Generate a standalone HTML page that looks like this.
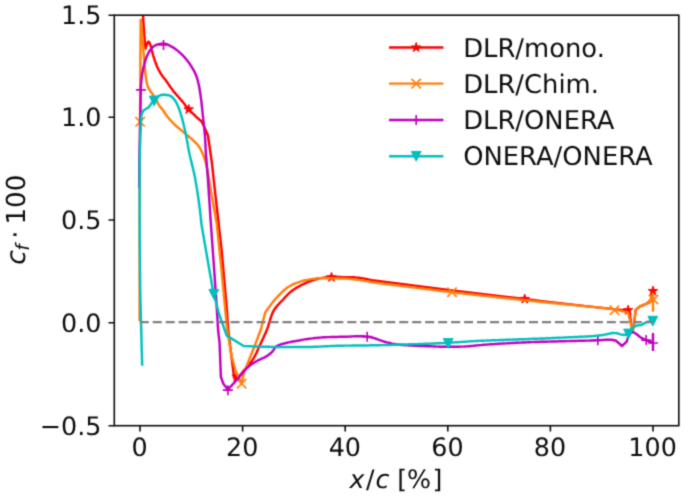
<!DOCTYPE html>
<html lang="en"><head><meta charset="utf-8"><title>cf plot</title>
<style>html,body{margin:0;padding:0;background:#fff}svg{display:block}</style>
</head><body>
<svg width="685" height="497" viewBox="0 0 685 497" font-family="'DejaVu Sans', 'Liberation Sans', sans-serif" font-size="25.4" fill="#0c0c0c" text-rendering="geometricPrecision">
<defs><filter id="soft" x="0" y="0" width="685" height="497" filterUnits="userSpaceOnUse" color-interpolation-filters="sRGB"><feConvolveMatrix order="3" kernelMatrix="0.02778 0.11111 0.02778 0.11111 0.44444 0.11111 0.02778 0.11111 0.02778" edgeMode="duplicate" preserveAlpha="true"/></filter></defs>
<g filter="url(#soft)">
<rect width="685" height="497" fill="#ffffff"/>
<defs><clipPath id="ax"><rect x="114.3" y="15.2" width="564.5" height="410.5"/></clipPath></defs>
<g clip-path="url(#ax)">
<path d="M142.5,8.0 L143.0,15.2 L143.1,16.8 L143.2,18.4 L143.3,20.0 L143.4,21.5 L143.5,23.1 L143.6,24.7 L143.7,26.3 L143.9,27.9 L144.0,29.5 L144.0,30.0 L144.1,31.1 L144.2,32.7 L144.3,34.2 L144.4,35.8 L144.5,37.4 L144.6,39.0 L144.7,40.6 L144.8,42.2 L145.0,43.8 L145.0,44.0 L145.2,45.3 L145.4,46.9 L145.6,48.5 L145.9,47.0 L146.4,45.6 L146.6,45.0 L147.0,44.0 L147.7,42.3 L148.5,41.5 L148.5,41.5 L149.3,42.4 L150.0,44.1 L150.2,44.5 L150.6,45.5 L151.0,47.0 L151.4,48.5 L151.7,50.0 L152.1,51.4 L152.2,51.9 L152.5,52.9 L152.9,54.4 L153.3,55.8 L153.8,57.3 L154.2,58.7 L154.5,59.5 L154.7,60.2 L155.2,61.6 L155.7,63.1 L156.3,64.5 L156.8,65.9 L157.4,67.3 L157.8,68.1 L158.1,68.7 L158.7,70.0 L159.5,71.4 L160.2,72.7 L161.0,74.0 L161.0,74.0 L161.9,75.3 L162.8,76.5 L163.7,77.7 L164.7,78.9 L165.1,79.4 L165.6,80.1 L166.5,81.3 L167.4,82.6 L168.2,83.8 L169.1,85.1 L169.9,86.3 L170.8,87.6 L171.7,88.8 L172.6,90.0 L173.5,91.2 L173.5,91.2 L174.5,92.4 L175.5,93.6 L176.5,94.7 L177.5,95.9 L178.5,97.0 L179.5,98.1 L180.5,99.3 L181.5,100.4 L182.5,101.6 L183.5,102.7 L183.7,103.0 L184.4,103.9 L185.3,105.2 L186.2,106.4 L187.1,107.6 L188.1,108.8 L188.1,108.8 L189.1,109.9 L190.2,111.0 L191.3,112.1 L192.4,113.1 L193.5,114.2 L194.0,114.7 L194.6,115.2 L195.7,116.3 L196.8,117.3 L197.9,118.3 L199.1,119.3 L200.2,120.3 L201.4,121.3 L203.6,125.5 L208.0,135.5 L210.2,151.0 L211.9,162.7 L214.6,187.7 L218.7,224.0 L221.6,250.0 L223.4,270.0 L226.6,306.7 L228.2,330.0 L229.8,343.0 L234.1,377.7 L239.3,376.3 L240.3,375.1 L241.2,373.9 L242.2,372.8 L243.1,371.6 L244.1,370.4 L245.0,369.2 L246.0,368.0 L246.0,368.0 L246.9,366.9 L247.9,365.7 L248.9,364.6 L249.9,363.4 L250.9,362.2 L251.8,361.0 L252.7,359.8 L252.9,359.4 L253.4,358.5 L254.2,357.2 L254.9,355.9 L255.6,354.6 L256.3,353.2 L256.9,351.8 L257.5,350.4 L258.2,349.0 L258.8,347.6 L259.4,346.2 L260.0,344.9 L260.7,343.5 L260.9,343.0 L261.3,342.1 L262.0,340.7 L262.6,339.4 L263.3,338.0 L263.9,336.6 L264.5,335.2 L265.2,333.9 L265.8,332.5 L266.4,331.1 L266.8,330.0 L266.9,329.7 L267.5,328.2 L268.0,326.8 L268.4,325.3 L268.9,323.9 L269.3,322.4 L269.8,320.9 L270.2,319.5 L270.7,318.0 L271.2,316.6 L271.7,315.1 L272.2,313.8 L272.8,312.4 L273.5,311.1 L273.6,310.8 L274.2,309.8 L275.1,308.5 L276.0,307.3 L277.0,306.1 L277.5,305.5 L277.9,305.0 L279.0,303.8 L280.0,302.7 L281.1,301.7 L282.1,300.6 L282.2,300.5 L283.2,299.5 L284.2,298.3 L285.2,297.2 L286.3,296.1 L287.3,295.0 L288.4,293.9 L289.5,292.9 L290.6,291.9 L291.0,291.6 L291.8,291.0 L293.0,290.1 L294.3,289.2 L295.5,288.4 L296.8,287.6 L298.2,286.8 L299.5,286.1 L300.0,285.8 L300.8,285.4 L302.2,284.7 L303.5,284.0 L304.9,283.4 L306.3,282.8 L307.7,282.2 L309.1,281.6 L310.5,281.1 L312.0,280.6 L313.1,280.2 L313.4,280.1 L314.9,279.6 L316.3,279.2 L317.8,278.8 L319.3,278.4 L320.7,278.1 L322.0,277.9 L322.2,277.9 L323.7,277.7 L325.2,277.5 L326.7,277.3 L328.3,277.1 L329.8,277.0 L331.3,277.0 L331.3,277.0 L332.8,277.0 L334.3,277.0 L335.8,277.0 L337.3,277.0 L338.9,277.0 L340.4,277.0 L341.9,277.1 L343.4,277.1 L344.9,277.1 L346.5,277.1 L348.0,277.1 L349.5,277.2 L350.9,277.2 L351.0,277.2 L352.5,277.3 L354.0,277.3 L355.5,277.5 L357.0,277.6 L358.5,277.8 L360.0,278.0 L361.5,278.2 L363.0,278.4 L364.5,278.7 L366.0,279.0 L367.5,279.3 L369.0,279.6 L370.5,279.9 L372.0,280.2 L452.0,290.4 L524.7,299.0 L544.0,301.5 L595.0,307.1 L613.6,309.1 L628.0,310.6 L629.6,313.0 L631.3,325.0 L632.6,331.0 L634.1,323.7 L635.6,310.2 L636.8,309.0 L638.0,308.0 L639.3,307.0 L640.2,306.4 L640.6,306.2 L642.1,305.5 L643.7,304.9 L645.2,304.3 L646.6,303.6 L646.9,303.4 L647.9,302.7 L649.1,301.5 L650.2,300.3 L651.1,298.9 L651.5,298.1 L651.7,297.5 L652.2,296.0 L652.6,294.5 L652.9,292.8 L653.0,291.1" fill="none" stroke="#ff0000" stroke-width="2.45" stroke-linejoin="round" stroke-linecap="butt"/>
<g fill="#ff0000" stroke="#ff0000" stroke-width="1.0" stroke-linejoin="bevel"><polygon class="star" points="188.70,104.40 189.82,107.85 193.46,107.85 190.52,109.99 191.64,113.45 188.70,111.31 185.76,113.45 186.88,109.99 183.94,107.85 187.58,107.85"/><polygon class="star" points="236.70,371.80 237.82,375.25 241.46,375.25 238.52,377.39 239.64,380.85 236.70,378.71 233.76,380.85 234.88,377.39 231.94,375.25 235.58,375.25"/><polygon class="star" points="331.50,272.30 332.62,275.75 336.26,275.75 333.32,277.89 334.44,281.35 331.50,279.21 328.56,281.35 329.68,277.89 326.74,275.75 330.38,275.75"/><polygon class="star" points="524.70,294.00 525.82,297.45 529.46,297.45 526.52,299.59 527.64,303.05 524.70,300.91 521.76,303.05 522.88,299.59 519.94,297.45 523.58,297.45"/><polygon class="star" points="628.10,305.20 629.22,308.65 632.86,308.65 629.92,310.79 631.04,314.25 628.10,312.11 625.16,314.25 626.28,310.79 623.34,308.65 626.98,308.65"/><polygon class="star" points="653.00,286.10 654.12,289.55 657.76,289.55 654.82,291.69 655.94,295.15 653.00,293.01 650.06,295.15 651.18,291.69 648.24,289.55 651.88,289.55"/></g>

<path d="M139.6,321.0 L139.6,250.0 L139.8,151.0 L140.1,122.0 L140.4,60.0 L140.7,19.7 L142.0,30.0 L142.8,42.3 L144.2,60.0 L145.4,74.5 L147.0,84.0 L147.4,85.5 L148.0,86.9 L148.6,88.3 L149.3,89.6 L149.5,90.0 L150.1,90.9 L151.0,92.1 L152.0,93.2 L152.2,93.5 L152.9,94.5 L153.7,95.7 L154.6,97.0 L155.4,98.3 L155.8,99.0 L156.1,99.6 L156.8,100.9 L157.5,102.3 L158.2,103.7 L158.6,104.4 L158.9,104.9 L159.8,106.2 L160.7,107.4 L161.7,108.6 L162.6,109.8 L163.2,110.6 L163.5,111.0 L164.4,112.3 L165.2,113.5 L166.1,114.8 L166.7,115.6 L167.0,116.0 L167.9,117.2 L168.9,118.3 L169.8,119.5 L170.8,120.7 L171.9,121.8 L172.9,122.9 L173.5,123.5 L174.0,123.9 L175.0,125.0 L176.2,126.0 L177.3,127.0 L178.5,128.0 L179.6,128.9 L180.8,129.9 L182.0,130.9 L183.2,131.8 L183.7,132.3 L184.3,132.8 L185.5,133.8 L186.6,134.8 L187.8,135.7 L189.0,136.7 L190.2,137.7 L191.3,138.6 L192.4,139.6 L193.5,140.7 L194.0,141.1 L194.6,141.7 L195.7,142.8 L196.8,143.9 L197.8,145.0 L198.5,146.0 L198.7,146.2 L199.5,147.5 L200.3,148.8 L201.0,150.2 L201.4,151.0 L201.6,151.5 L202.3,152.9 L202.9,154.3 L203.5,155.7 L204.0,157.1 L204.5,158.5 L205.0,160.0 L205.5,161.4 L205.8,162.7 L205.8,162.9 L206.2,164.3 L206.6,165.8 L206.9,167.3 L207.2,168.7 L207.5,170.2 L207.8,171.7 L208.1,173.2 L208.3,174.7 L208.6,176.2 L208.8,177.7 L209.1,179.2 L209.3,180.7 L209.5,182.2 L209.8,183.7 L210.0,185.2 L210.2,186.7 L210.5,188.2 L210.7,189.7 L210.9,191.2 L211.2,192.7 L211.5,194.2 L211.6,195.0 L211.7,195.7 L212.0,197.2 L212.3,198.7 L212.5,200.1 L212.8,201.6 L213.1,203.1 L213.3,204.6 L213.6,206.1 L213.9,207.6 L214.1,209.1 L214.4,210.6 L214.7,212.1 L214.9,213.6 L215.2,215.1 L215.5,216.5 L215.7,218.0 L216.0,219.5 L216.3,221.0 L216.5,222.5 L216.8,224.0 L221.5,270.0 L225.0,306.7 L227.2,330.0 L231.6,356.4 L236.0,372.0 L241.6,383.6 L244.0,372.6 L251.6,353.5 L255.8,343.0 L261.0,329.0 L265.2,312.6 L266.1,311.3 L266.9,310.1 L267.8,308.8 L268.7,307.6 L269.6,306.4 L270.5,305.2 L270.5,305.2 L271.4,304.0 L272.4,302.8 L273.3,301.6 L274.3,300.4 L275.2,299.2 L276.2,298.1 L277.3,297.0 L277.8,296.4 L278.3,295.9 L279.4,294.8 L280.5,293.7 L281.6,292.6 L282.7,291.5 L283.8,290.5 L285.0,289.5 L286.2,288.5 L287.4,287.6 L288.6,286.8 L289.6,286.2 L289.9,286.0 L291.2,285.3 L292.5,284.6 L293.9,284.0 L295.3,283.4 L296.8,282.8 L298.2,282.3 L299.7,281.8 L300.0,281.7 L301.1,281.4 L302.6,280.9 L304.0,280.5 L305.5,280.2 L305.6,280.2 L307.0,279.9 L308.5,279.7 L310.0,279.4 L311.5,279.1 L313.0,278.9 L314.5,278.7 L316.0,278.5 L317.5,278.3 L319.1,278.2 L320.6,278.2 L320.7,278.2 L322.1,278.2 L323.6,278.2 L325.1,278.2 L326.6,278.2 L328.2,278.2 L329.7,278.2 L331.2,278.3 L332.7,278.3 L334.3,278.3 L335.8,278.3 L337.3,278.3 L338.8,278.4 L340.3,278.4 L340.8,278.4 L341.8,278.4 L343.4,278.5 L344.9,278.5 L346.4,278.6 L347.9,278.7 L349.4,278.9 L350.9,279.0 L352.4,279.1 L353.9,279.3 L355.4,279.5 L357.0,279.7 L358.5,279.9 L360.0,280.1 L361.5,280.4 L363.0,280.6 L364.5,280.8 L366.0,281.1 L367.5,281.4 L369.0,281.6 L370.5,281.9 L372.0,282.2 L452.0,292.2 L544.0,302.3 L610.0,308.6 L628.0,312.4 L631.1,325.2 L632.6,331.3 L634.1,323.7 L635.6,310.2 L636.8,309.0 L638.1,307.9 L639.4,306.9 L640.2,306.4 L640.8,306.1 L642.4,305.4 L644.0,304.8 L645.6,304.2 L646.9,303.4 L646.9,303.4 L648.2,302.3 L649.4,301.1 L650.5,299.7 L651.4,298.3 L651.5,298.1 L652.1,296.9 L652.6,295.3 L653.0,293.6 L653.0,311.7" fill="none" stroke="#ff7f0e" stroke-width="2.45" stroke-linejoin="round" stroke-linecap="butt"/>
<g fill="none" stroke="#ff7f0e" stroke-width="1.67"><path d="M135.40,117.10L144.80,126.50M135.40,126.50L144.80,117.10"/><path d="M236.90,378.90L246.30,388.30M236.90,388.30L246.30,378.90"/><path d="M447.30,287.50L456.70,296.90M447.30,296.90L456.70,287.50"/><path d="M609.80,305.50L619.20,314.90M609.80,314.90L619.20,305.50"/><path d="M648.80,294.80L658.20,304.20M648.80,304.20L658.20,294.80"/></g>

<path d="M139.3,188.0 L139.4,165.0 L140.0,130.0 L140.8,89.8 L140.8,88.3 L140.9,86.8 L141.0,85.2 L141.1,83.7 L141.3,82.2 L141.4,80.7 L141.5,79.2 L141.7,77.7 L141.7,77.7 L141.9,76.2 L142.1,74.7 L142.3,73.2 L142.6,71.7 L142.9,70.2 L143.2,68.7 L143.5,67.2 L143.9,65.8 L144.1,64.8 L144.2,64.3 L144.6,62.8 L145.1,61.4 L145.5,59.9 L146.0,58.5 L146.6,57.0 L147.2,55.6 L147.8,54.3 L148.2,53.5 L148.5,53.0 L149.2,51.6 L150.1,50.3 L151.0,49.0 L152.0,47.9 L153.1,46.8 L153.8,46.3 L154.3,46.0 L155.6,45.2 L157.0,44.6 L158.5,44.2 L158.5,44.2 L160.0,43.9 L161.5,43.7 L163.0,43.6 L163.5,43.6 L164.5,43.7 L165.9,44.0 L167.4,44.5 L168.8,45.2 L170.2,45.9 L171.5,46.7 L172.0,46.9 L172.8,47.4 L174.1,48.1 L175.4,49.0 L176.6,49.9 L177.8,50.9 L179.0,51.9 L180.1,52.9 L180.8,53.5 L181.2,53.9 L182.3,54.9 L183.4,56.0 L184.4,57.1 L185.4,58.3 L186.4,59.5 L187.4,60.6 L188.3,61.9 L189.2,63.1 L189.6,63.7 L190.0,64.3 L190.8,65.6 L191.6,66.9 L192.4,68.2 L193.2,69.5 L194.0,70.9 L194.7,72.2 L195.3,73.6 L195.9,75.0 L196.5,76.4 L196.9,77.8 L197.0,78.0 L197.4,79.2 L197.8,80.7 L198.1,82.1 L198.5,83.6 L198.8,85.1 L199.1,86.6 L199.4,88.1 L199.6,89.6 L199.9,91.1 L200.1,92.6 L200.4,94.1 L200.6,95.6 L200.6,95.6 L200.8,97.1 L201.0,98.6 L201.2,100.1 L201.4,101.6 L201.6,103.1 L201.7,104.6 L201.9,106.1 L202.1,107.7 L202.2,109.2 L202.4,110.7 L202.5,112.2 L202.7,113.7 L202.8,114.7 L202.9,115.2 L203.0,116.7 L203.2,118.2 L203.3,119.7 L203.5,121.2 L203.7,122.7 L203.8,124.2 L204.0,125.7 L204.2,127.3 L204.3,128.8 L204.5,130.3 L204.6,131.8 L204.7,133.3 L204.9,134.8 L205.0,136.3 L205.0,136.7 L205.1,137.8 L205.2,139.3 L205.3,140.8 L205.3,142.4 L205.4,143.9 L205.5,145.4 L205.6,146.9 L205.6,148.4 L205.7,149.9 L205.8,151.0 L205.8,151.4 L205.9,153.0 L206.0,154.5 L206.1,156.0 L206.2,157.5 L206.4,159.0 L206.5,160.5 L206.6,162.0 L206.7,163.5 L206.8,165.0 L206.9,166.6 L207.1,168.1 L207.2,169.6 L207.3,171.1 L207.4,172.6 L207.5,174.1 L207.6,175.6 L207.8,177.1 L207.9,178.6 L208.0,180.2 L208.0,180.4 L208.1,181.7 L208.2,183.2 L208.3,184.7 L208.4,186.2 L208.5,187.7 L208.6,189.2 L208.7,190.7 L208.8,192.2 L208.9,193.8 L209.0,195.3 L209.1,196.8 L209.2,198.3 L209.3,199.8 L209.4,201.3 L209.5,202.8 L209.6,204.3 L209.7,205.9 L209.8,207.4 L209.9,208.9 L210.0,210.4 L210.1,211.9 L210.2,213.4 L210.3,214.9 L210.4,216.4 L210.5,217.9 L210.6,219.5 L210.7,221.0 L210.8,222.5 L210.9,224.0 L214.2,270.0 L216.7,306.7 L218.1,330.0 L219.6,343.0 L220.9,377.0 L223.5,384.0 L227.9,389.5 L228.9,388.4 L230.0,387.3 L231.0,386.2 L232.0,385.1 L233.1,384.0 L234.1,382.9 L235.1,381.8 L236.1,380.6 L236.7,380.0 L237.1,379.5 L238.1,378.4 L239.1,377.2 L240.1,376.0 L241.0,374.8 L242.0,373.7 L243.0,372.5 L244.0,371.3 L245.0,370.2 L246.0,369.1 L247.0,368.0 L248.1,367.0 L248.5,366.7 L249.2,366.1 L250.4,365.2 L251.7,364.3 L252.9,363.4 L254.2,362.6 L255.5,361.8 L255.8,361.6 L256.8,361.0 L258.1,360.3 L259.5,359.7 L260.9,359.1 L262.3,358.4 L263.7,357.8 L265.0,357.1 L266.3,356.4 L267.5,355.7 L267.6,355.6 L268.8,354.8 L270.0,353.8 L271.2,352.8 L272.0,352.0 L272.2,351.8 L273.2,350.5 L274.1,349.2 L274.9,347.9 L275.9,346.8 L276.5,346.3 L277.0,346.0 L278.2,345.4 L279.6,344.8 L281.0,344.3 L282.5,343.9 L284.1,343.5 L285.6,343.1 L287.1,342.7 L288.1,342.5 L288.6,342.4 L290.1,342.1 L291.5,341.8 L293.0,341.5 L294.5,341.2 L296.0,341.0 L297.5,340.7 L299.0,340.5 L300.0,340.3 L300.5,340.2 L302.0,339.9 L303.4,339.6 L304.9,339.4 L305.6,339.3 L306.4,339.2 L307.9,339.0 L309.4,338.8 L310.9,338.6 L312.4,338.4 L313.9,338.2 L315.4,338.0 L316.9,337.9 L318.4,337.7 L319.9,337.6 L321.4,337.5 L323.0,337.3 L324.5,337.3 L325.7,337.2 L326.0,337.2 L327.5,337.1 L329.0,337.1 L330.5,337.0 L332.0,337.0 L333.5,337.0 L335.0,336.9 L336.5,336.9 L338.0,336.9 L339.6,336.8 L341.1,336.8 L342.6,336.8 L344.1,336.7 L345.6,336.7 L345.8,336.7 L347.1,336.7 L348.6,336.6 L350.1,336.5 L351.6,336.5 L353.1,336.4 L354.7,336.3 L356.2,336.3 L357.7,336.2 L359.2,336.2 L360.7,336.2 L360.9,336.2 L362.2,336.2 L363.7,336.3 L365.2,336.5 L366.7,336.6 L367.2,336.7 L368.2,336.8 L369.7,337.1 L371.2,337.3 L372.0,337.5 L372.7,337.7 L374.1,338.1 L375.5,338.5 L377.0,339.1 L378.4,339.6 L379.8,340.2 L381.2,340.7 L382.6,341.2 L384.1,341.7 L384.6,341.8 L385.5,342.0 L387.0,342.4 L388.5,342.7 L389.9,343.0 L391.4,343.4 L392.9,343.7 L394.4,343.9 L395.9,344.2 L397.4,344.4 L398.9,344.7 L400.4,344.8 L401.9,345.0 L402.2,345.0 L403.4,345.1 L404.9,345.2 L406.4,345.3 L407.9,345.4 L409.4,345.5 L410.9,345.5 L412.4,345.6 L413.9,345.7 L415.5,345.7 L417.0,345.8 L418.5,345.9 L420.0,345.9 L421.5,346.0 L422.3,346.0 L423.0,346.0 L424.5,346.1 L426.0,346.2 L427.5,346.2 L429.0,346.3 L430.6,346.3 L432.1,346.4 L433.6,346.5 L435.1,346.5 L436.6,346.6 L438.1,346.6 L439.6,346.7 L441.1,346.7 L442.6,346.8 L444.1,346.8 L445.7,346.8 L447.2,346.8 L447.4,346.8 L448.7,346.8 L450.2,346.8 L451.7,346.8 L453.2,346.8 L454.7,346.7 L456.2,346.7 L457.7,346.7 L459.2,346.7 L460.8,346.6 L462.3,346.6 L462.5,346.6 L463.8,346.6 L465.3,346.5 L466.8,346.4 L468.3,346.3 L469.8,346.2 L471.3,346.0 L472.8,345.9 L474.3,345.7 L475.8,345.5 L477.3,345.4 L478.8,345.2 L480.3,345.1 L481.8,345.0 L483.3,344.8 L483.8,344.8 L484.8,344.7 L486.4,344.6 L487.9,344.5 L489.4,344.4 L490.9,344.3 L492.4,344.2 L493.9,344.1 L495.4,344.0 L496.9,343.9 L498.4,343.8 L499.9,343.7 L501.4,343.6 L502.9,343.5 L504.4,343.5 L505.9,343.4 L507.5,343.3 L509.0,343.2 L510.5,343.1 L512.0,343.0 L513.5,342.9 L515.0,342.9 L516.5,342.8 L518.0,342.7 L519.5,342.6 L521.0,342.6 L522.5,342.5 L524.0,342.4 L525.6,342.4 L527.1,342.3 L527.6,342.3 L528.6,342.3 L530.1,342.2 L531.6,342.1 L533.1,342.1 L534.6,342.0 L536.1,342.0 L537.6,341.9 L539.1,341.9 L540.6,341.8 L542.2,341.8 L543.7,341.8 L545.2,341.7 L546.7,341.7 L548.2,341.6 L549.7,341.6 L551.2,341.5 L552.7,341.5 L554.2,341.5 L555.7,341.4 L557.3,341.4 L558.8,341.3 L560.3,341.3 L561.8,341.3 L563.3,341.2 L564.8,341.2 L566.3,341.1 L567.8,341.1 L569.3,341.1 L570.8,341.0 L571.4,341.0 L572.4,341.0 L573.9,340.9 L575.4,340.9 L576.9,340.9 L578.4,340.8 L579.9,340.8 L581.4,340.8 L582.9,340.7 L584.4,340.7 L585.9,340.6 L587.5,340.6 L589.0,340.6 L590.5,340.5 L592.0,340.5 L593.5,340.4 L595.0,340.4 L596.5,340.3 L597.7,340.3 L598.0,340.3 L599.5,340.2 L601.0,340.1 L602.6,340.0 L604.1,339.9 L605.6,339.8 L607.1,339.7 L608.6,339.7 L609.3,339.7 L610.1,339.7 L611.6,339.8 L613.1,340.0 L616.0,340.8 L622.0,346.0 L626.7,341.7 L628.1,337.0 L630.0,333.4 L633.3,332.0 L636.4,334.0 L640.0,337.0 L642.4,338.3 L646.2,340.1 L653.0,343.0 L653.0,334.0 L653.0,351.0" fill="none" stroke="#bf00bf" stroke-width="2.45" stroke-linejoin="round" stroke-linecap="butt"/>
<g fill="none" stroke="#bf00bf" stroke-width="1.67"><path d="M135.90,89.80L145.90,89.80M140.90,84.80L140.90,94.80"/><path d="M158.50,45.00L168.50,45.00M163.50,40.00L163.50,50.00"/><path d="M222.90,390.20L232.90,390.20M227.90,385.20L227.90,395.20"/><path d="M362.20,336.70L372.20,336.70M367.20,331.70L367.20,341.70"/><path d="M592.80,340.20L602.80,340.20M597.80,335.20L597.80,345.20"/><path d="M641.20,340.10L651.20,340.10M646.20,335.10L646.20,345.10"/><path d="M648.00,343.00L658.00,343.00M653.00,338.00L653.00,348.00"/></g>

<path d="M142.2,365.7 L141.0,322.0 L140.2,290.0 L139.7,224.0 L139.6,165.0 L140.3,135.0 L141.2,117.3 L141.4,115.6 L141.8,114.0 L142.3,112.6 L143.0,111.3 L143.3,110.8 L143.7,110.3 L145.0,109.5 L146.4,108.7 L147.8,107.9 L148.2,107.6 L148.9,106.9 L149.8,105.7 L150.7,104.5 L151.6,103.2 L152.2,102.5 L152.6,102.0 L153.6,100.8 L154.6,99.6 L155.6,98.4 L156.7,97.4 L157.8,96.6 L157.9,96.6 L159.2,95.8 L160.7,95.2 L162.2,94.8 L163.0,94.7 L163.7,94.7 L165.2,94.8 L166.8,95.0 L168.3,95.2 L169.0,95.3 L169.6,95.5 L171.0,96.2 L172.2,97.2 L173.3,98.4 L173.8,98.9 L174.3,99.5 L175.2,100.7 L176.0,102.0 L176.7,103.4 L177.4,104.8 L178.0,106.2 L178.5,107.4 L178.6,107.6 L179.1,109.0 L179.6,110.4 L180.1,111.9 L180.6,113.3 L181.0,114.8 L181.5,116.3 L181.9,117.8 L182.3,119.2 L182.7,120.7 L183.0,122.0 L183.0,122.2 L183.4,123.7 L183.8,125.1 L184.1,126.6 L184.5,128.1 L184.8,129.6 L185.1,131.1 L185.5,132.6 L185.8,134.1 L186.1,135.5 L186.3,136.7 L186.4,137.0 L186.7,138.5 L186.9,140.0 L187.2,141.5 L187.5,143.0 L187.7,144.5 L188.0,146.0 L188.2,147.5 L188.5,149.0 L188.8,150.5 L188.9,151.0 L189.1,152.0 L189.4,153.5 L189.7,155.0 L190.1,156.5 L190.4,158.0 L190.8,159.5 L191.1,160.9 L191.5,162.4 L191.9,163.9 L192.2,165.4 L192.6,166.9 L192.9,168.3 L193.3,169.8 L193.6,171.3 L194.0,172.8 L194.3,174.3 L194.6,175.8 L194.9,177.3 L195.2,178.7 L195.5,180.2 L195.5,180.4 L195.7,181.7 L196.0,183.2 L196.2,184.7 L196.5,186.2 L196.7,187.7 L197.0,189.2 L197.2,190.7 L197.5,192.2 L197.7,193.7 L197.9,195.2 L198.1,196.8 L198.4,198.3 L198.6,199.8 L198.8,201.3 L199.0,202.8 L199.2,204.3 L199.4,205.8 L199.6,207.3 L199.8,208.8 L200.0,210.3 L200.2,211.9 L200.3,213.4 L200.5,214.9 L200.7,216.4 L200.8,217.9 L201.0,219.4 L201.1,221.0 L201.3,222.5 L201.4,224.0 L213.2,292.0 L219.1,314.0 L226.7,335.6 L243.6,346.0 L245.1,346.1 L246.6,346.1 L248.1,346.2 L249.6,346.2 L251.1,346.3 L252.6,346.4 L254.1,346.4 L255.7,346.5 L257.2,346.5 L258.7,346.6 L260.2,346.6 L261.7,346.7 L263.2,346.7 L264.7,346.7 L266.2,346.8 L267.7,346.8 L269.2,346.8 L270.7,346.9 L272.2,346.9 L273.7,346.9 L275.2,346.9 L275.4,346.9 L276.8,346.9 L278.3,346.9 L279.8,346.9 L281.3,346.9 L282.8,346.9 L284.3,346.9 L285.8,347.0 L287.3,347.0 L288.8,347.0 L290.3,347.0 L291.8,347.0 L293.3,347.0 L294.8,347.0 L296.4,347.0 L297.9,347.0 L299.4,347.0 L300.9,347.0 L302.4,347.0 L303.9,347.0 L305.4,347.0 L305.6,347.0 L306.9,347.0 L308.4,347.0 L309.9,347.0 L311.4,346.9 L312.9,346.9 L314.4,346.8 L315.9,346.8 L317.5,346.7 L319.0,346.6 L320.5,346.6 L322.0,346.5 L323.5,346.4 L325.0,346.3 L326.5,346.3 L328.0,346.2 L329.5,346.1 L331.0,346.0 L332.5,346.0 L334.0,345.9 L335.5,345.9 L337.0,345.8 L338.5,345.8 L340.1,345.7 L340.8,345.7 L341.6,345.7 L343.1,345.7 L344.6,345.6 L346.1,345.6 L347.6,345.6 L349.1,345.6 L350.6,345.6 L352.1,345.5 L353.6,345.5 L355.1,345.5 L356.6,345.5 L358.1,345.5 L359.7,345.5 L361.2,345.4 L362.7,345.4 L364.2,345.4 L365.7,345.4 L367.2,345.4 L368.7,345.4 L370.2,345.3 L371.7,345.3 L372.0,345.3 L373.2,345.3 L374.7,345.3 L376.2,345.2 L377.7,345.2 L379.2,345.2 L380.8,345.1 L382.3,345.1 L383.8,345.1 L385.3,345.0 L386.8,345.0 L388.3,344.9 L389.8,344.9 L391.3,344.9 L392.8,344.8 L394.3,344.8 L395.8,344.7 L397.3,344.7 L398.8,344.6 L400.3,344.6 L401.9,344.5 L403.4,344.5 L404.9,344.5 L406.4,344.4 L407.9,344.4 L409.4,344.3 L409.7,344.3 L410.9,344.3 L412.4,344.2 L413.9,344.2 L415.4,344.1 L416.9,344.1 L418.4,344.0 L419.9,344.0 L421.4,343.9 L423.0,343.9 L424.5,343.8 L426.0,343.7 L427.5,343.7 L429.0,343.6 L430.5,343.6 L432.0,343.5 L433.5,343.5 L435.0,343.4 L436.5,343.3 L438.0,343.3 L439.5,343.2 L441.0,343.1 L442.5,343.1 L444.0,343.0 L445.5,342.9 L447.1,342.9 L448.2,342.8 L448.6,342.8 L450.1,342.7 L451.6,342.6 L453.1,342.5 L454.6,342.4 L456.1,342.3 L457.6,342.2 L459.1,342.1 L460.6,342.0 L462.1,341.9 L463.6,341.8 L465.1,341.7 L466.6,341.6 L468.1,341.5 L469.6,341.4 L471.1,341.3 L472.6,341.2 L472.6,341.2 L474.1,341.1 L475.6,341.0 L477.1,341.0 L478.7,340.9 L480.2,340.8 L481.7,340.8 L483.2,340.7 L484.7,340.6 L486.2,340.6 L487.7,340.5 L489.2,340.4 L490.7,340.4 L492.2,340.3 L493.7,340.3 L495.2,340.2 L496.7,340.1 L498.2,340.1 L499.7,340.0 L501.2,340.0 L502.8,339.9 L504.3,339.9 L505.8,339.8 L507.3,339.8 L508.8,339.7 L510.3,339.7 L511.8,339.6 L513.3,339.5 L514.8,339.5 L516.3,339.4 L517.8,339.4 L519.3,339.3 L520.8,339.3 L522.3,339.2 L523.8,339.2 L525.4,339.1 L526.9,339.1 L528.4,339.0 L529.9,339.0 L531.4,338.9 L532.9,338.8 L534.4,338.8 L535.9,338.7 L537.4,338.7 L538.9,338.6 L540.4,338.5 L541.9,338.5 L543.4,338.4 L544.0,338.4 L544.9,338.4 L546.4,338.3 L548.0,338.2 L549.5,338.2 L551.0,338.1 L552.5,338.0 L554.0,338.0 L555.5,337.9 L557.0,337.8 L558.5,337.8 L560.0,337.7 L561.5,337.6 L563.0,337.6 L564.5,337.5 L566.0,337.4 L567.5,337.4 L569.0,337.3 L570.5,337.2 L572.1,337.1 L573.6,337.1 L575.0,337.0 L575.1,337.0 L576.6,336.9 L578.1,336.9 L579.6,336.8 L581.1,336.7 L582.6,336.7 L584.1,336.6 L585.6,336.5 L587.1,336.4 L588.6,336.4 L590.1,336.3 L591.6,336.2 L593.1,336.1 L594.0,336.0 L594.6,336.0 L596.1,335.8 L597.6,335.7 L599.1,335.5 L600.6,335.3 L602.1,335.1 L603.5,334.9 L603.6,334.9 L605.1,334.6 L606.6,334.3 L608.0,334.0 L608.1,334.0 L609.5,333.6 L611.0,333.3 L612.5,333.0 L613.0,333.0 L614.0,333.0 L615.5,333.1 L616.7,333.2 L617.0,333.2 L618.4,333.7 L619.8,334.2 L620.5,334.4 L621.3,334.6 L622.8,334.8 L624.3,335.0 L628.5,334.0 L630.2,331.0 L632.6,327.6 L637.1,325.4 L641.5,325.0 L644.0,323.4 L647.5,321.8 L652.8,321.2" fill="none" stroke="#00bfbf" stroke-width="2.45" stroke-linejoin="round" stroke-linecap="butt"/>
<g fill="#00bfbf" stroke="#00bfbf" stroke-width="1.0" stroke-linejoin="miter"><polygon points="149.30,96.10 159.10,96.10 154.20,105.90"/><polygon points="208.90,289.40 218.70,289.40 213.80,299.20"/><polygon points="443.30,338.60 453.10,338.60 448.20,348.40"/><polygon points="623.60,329.10 633.40,329.10 628.50,338.90"/><polygon points="647.90,316.30 657.70,316.30 652.80,326.10"/></g>

<path d="M139.7,322.1L652.6,322.1" stroke="#808080" stroke-width="2.45" stroke-dasharray="9.06 3.915" fill="none"/>
</g>
<path d="M140.00,425.7v5.83M242.60,425.7v5.83M345.20,425.7v5.83M447.80,425.7v5.83M550.40,425.7v5.83M653.00,425.7v5.83M114.3,425.70h-5.83M114.3,322.70h-5.83M114.3,220.00h-5.83M114.3,117.30h-5.83M114.3,15.20h-5.83" stroke="#0c0c0c" stroke-width="1.6" fill="none"/>
<rect x="114.3" y="15.2" width="564.5" height="410.5" fill="none" stroke="#0c0c0c" stroke-width="1.6"/>
<text x="139.60" y="456.2" text-anchor="middle">0</text>
<text x="242.20" y="456.2" text-anchor="middle">20</text>
<text x="344.80" y="456.2" text-anchor="middle">40</text>
<text x="447.40" y="456.2" text-anchor="middle">60</text>
<text x="550.00" y="456.2" text-anchor="middle">80</text>
<text x="652.60" y="456.2" text-anchor="middle">100</text>
<text x="101.4" y="434.50" text-anchor="end">−0.5</text>
<text x="101.4" y="331.50" text-anchor="end">0.0</text>
<text x="101.4" y="228.80" text-anchor="end">0.5</text>
<text x="101.4" y="126.10" text-anchor="end">1.0</text>
<text x="101.4" y="24.00" text-anchor="end">1.5</text>
<text y="487.5" font-size="25.3"><tspan x="349.6" font-style="italic">x</tspan><tspan x="366.0">/</tspan><tspan x="375.6" font-style="italic">c</tspan><tspan x="389.3"> [</tspan><tspan x="407.0">%</tspan><tspan x="432.6">]</tspan></text>
<g transform="translate(24.8,220.4) rotate(-90)"><text x="-44.4" y="0.2" font-style="italic" font-size="26.5">c</text><text x="-30.4" y="3.8" font-style="italic" font-size="18.5">f</text><text x="-18.4" y="-0.7" font-size="26">·</text><text x="-4.2" y="0" font-size="26.2">100</text></g>
<path d="M390.2,47.5L442.2,47.5" stroke="#ff0000" stroke-width="2.45" stroke-linecap="square"/>
<g fill="#ff0000" stroke="#ff0000" stroke-width="1.0" stroke-linejoin="bevel"><polygon class="star" points="416.20,42.50 417.32,45.95 420.96,45.95 418.02,48.09 419.14,51.55 416.20,49.41 413.26,51.55 414.38,48.09 411.44,45.95 415.08,45.95"/></g>

<text x="463.2" y="56.9" font-size="25.8">DLR/mono.</text>
<path d="M390.2,83.6L442.2,83.6" stroke="#ff7f0e" stroke-width="2.45" stroke-linecap="square"/>
<g fill="none" stroke="#ff7f0e" stroke-width="1.67"><path d="M411.50,78.90L420.90,88.30M411.50,88.30L420.90,78.90"/></g>

<text x="463.2" y="92.9" font-size="25.8">DLR/Chim.</text>
<path d="M390.2,120.0L442.2,120.0" stroke="#bf00bf" stroke-width="2.45" stroke-linecap="square"/>
<g fill="none" stroke="#bf00bf" stroke-width="1.67"><path d="M411.20,120.00L421.20,120.00M416.20,115.00L416.20,125.00"/></g>

<text x="463.2" y="128.8" font-size="25.8">DLR/ONERA</text>
<path d="M390.2,156.3L442.2,156.3" stroke="#00bfbf" stroke-width="2.45" stroke-linecap="square"/>
<g fill="#00bfbf" stroke="#00bfbf" stroke-width="1.0" stroke-linejoin="miter"><polygon points="411.30,151.40 421.10,151.40 416.20,161.20"/></g>

<text x="463.2" y="164.7" font-size="25.8">ONERA/ONERA</text>
</g>
</svg>
</body></html>
